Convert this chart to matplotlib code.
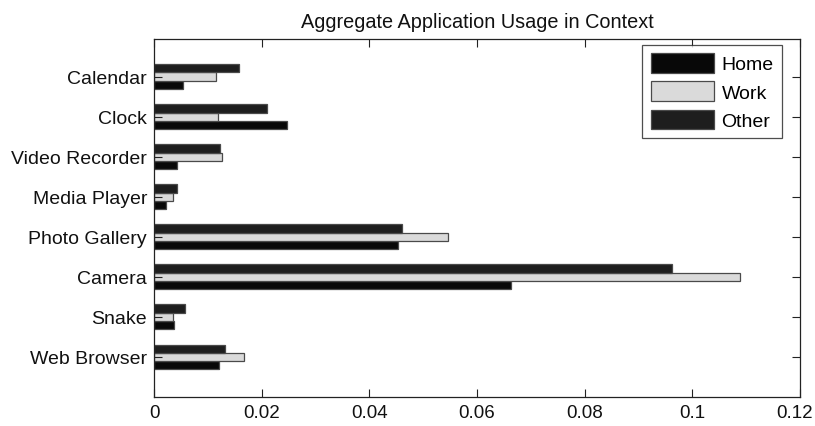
import matplotlib
matplotlib.use("Agg")
import matplotlib.pyplot as plt
import matplotlib.transforms as mtransforms
import numpy as np

plt.rcParams['font.family'] = ['Liberation Sans', 'DejaVu Sans']

categories = ["Web Browser", "Snake", "Camera", "Photo Gallery",
              "Media Player", "Video Recorder", "Clock", "Calendar"]
home = [0.0121, 0.0037, 0.0663, 0.0453, 0.0022, 0.0043, 0.0247, 0.0054]
work = [0.0167, 0.0036, 0.1088, 0.0547, 0.0036, 0.0126, 0.0119, 0.0115]
other = [0.0132, 0.0058, 0.0963, 0.0460, 0.0043, 0.0123, 0.0210, 0.0158]
series_names = ["Home", "Work", "Other"]
colors = ["#080808", "#dadada", "#1e1e1e"]
xticks = [0, 0.02, 0.04, 0.06, 0.08, 0.1, 0.12]
xticklabels = ["0", "0.02", "0.04", "0.06", "0.08", "0.1", "0.12"]
title = "Aggregate Application Usage in Context"

fig = plt.figure(figsize=(8.15, 4.27), dpi=100)
ax = fig.add_axes([154/815, 1-398/427, 646/815, 358/427])

y = np.arange(1, len(categories)+1)
h = 0.207
for i, (vals, name, c) in enumerate(zip([home, work, other], series_names, colors)):
    ax.barh(y + (i-1)*h, vals, height=h, color=c, edgecolor="#4a4a4a",
            linewidth=0.9, label=name)

ax.set_xlim(0, 0.12)
ax.set_ylim(0.0, 8.94)
ax.set_xticks(xticks)
ax.set_xticklabels(xticklabels, fontsize=13.5)
ax.set_yticks(y)
ax.set_yticklabels(categories, fontsize=14)
ax.tick_params(direction='in', top=True, right=True, length=6, width=0.8,
               color="#222222", labelcolor="#111111", pad=5)
for s in ax.spines.values():
    s.set_color("#222222")
    s.set_linewidth(0.9)
ax.set_title(title, fontsize=14.3, pad=9, color="#111111")

# keep the last x tick label inside the figure edge
last = ax.get_xticklabels()[-1]
last.set_transform(last.get_transform() +
                   mtransforms.ScaledTranslation(-5/100, 0, fig.dpi_scale_trans))

leg = ax.legend(loc="upper right", bbox_to_anchor=(0.972, 0.983),
                fontsize=14, frameon=True, fancybox=False,
                handlelength=3.25, handleheight=1.15, labelspacing=0.41,
                handletextpad=0.4, borderpad=0.42, borderaxespad=0)
leg.get_frame().set_edgecolor("#222222")
leg.get_frame().set_linewidth(0.9)

fig.savefig("out.png", dpi=100)
